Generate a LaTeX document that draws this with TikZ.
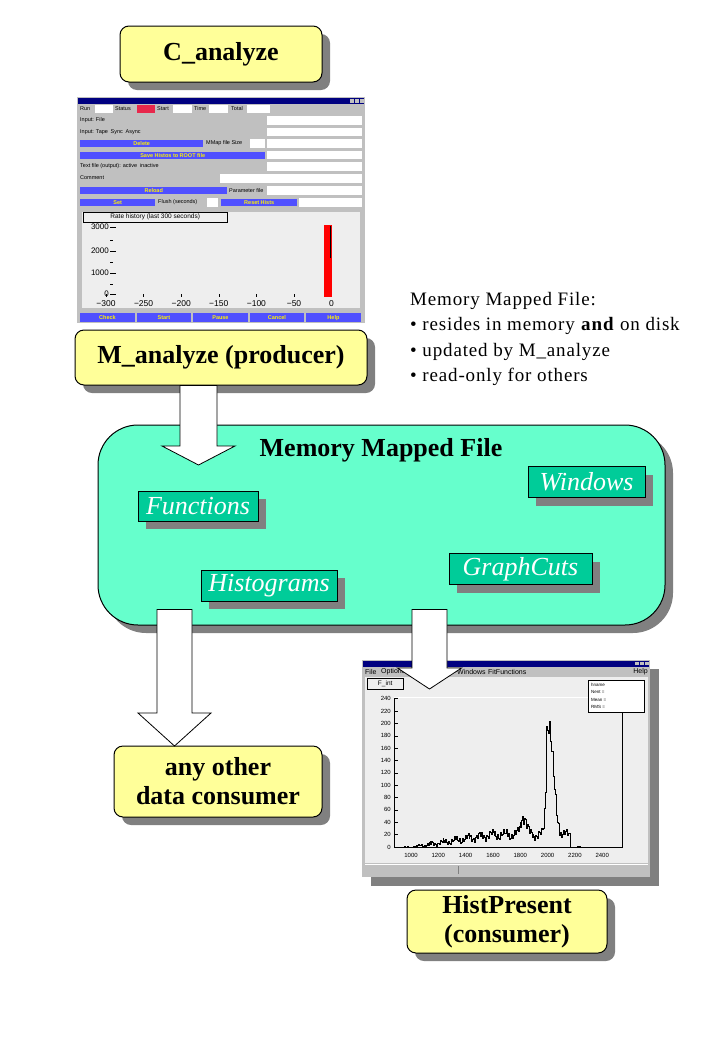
\documentclass[tikz,border=0pt]{standalone}
\usepackage{fontspec}
\setmainfont{Liberation Serif}
\newfontfamily\guifont{Liberation Sans}
\newfontfamily\notefont[LetterSpace=4.5]{Liberation Serif}
\usepackage{tikz}
\usetikzlibrary{shadows,calc}
\definecolor{progyellow}{HTML}{FFFF99}
\definecolor{mmfaqua}{HTML}{66FFCC}
\definecolor{partgreen}{HTML}{00CC99}
\definecolor{shadowgray}{HTML}{808080}
\definecolor{wingray}{HTML}{C0C0C0}
\definecolor{winnavy}{HTML}{000080}
\definecolor{winblue}{HTML}{5050FF}
\definecolor{panelgray}{HTML}{EEEEEE}
\definecolor{statred}{HTML}{E8284C}

\begin{document}
\begin{tikzpicture}[
    x=1pt, y=-1pt,
    shade8/.style={drop shadow={shadow xshift=8pt,shadow yshift=-8pt,
                   fill=shadowgray,opacity=1}},
    prog/.style={draw,line width=1pt,rounded corners=9pt,fill=progyellow,shade8,
                 align=center,inner sep=0pt,
                 font=\fontsize{26}{29}\selectfont\bfseries},
    mmbox/.style={draw,line width=1pt,rounded corners=40pt,fill=mmfaqua,shade8},
    part/.style={draw,line width=0.8pt,fill=partgreen,text=white,inner sep=0pt,
                 shade8,minimum height=31,
                 font=\fontsize{26}{26}\selectfont\itshape},
    fat/.style n args={3}{draw,line width=0.8pt,fill=white,
        to path={let \p1=(\tikztostart),\p2=(\tikztotarget) in
          (\x1-#1,\y1) -- (\x1-#1,\y2+#3) -- (\x1-#2,\y2+#3) -- (\x2,\y2)
          -- (\x1+#2,\y2+#3) -- (\x1+#1,\y2+#3) -- (\x1+#1,\y1) -- cycle}},
    gui/.style={anchor=west,inner sep=0pt,font=\guifont\fontsize{5.5}{6}\selectfont},
    btn/.style={anchor=north west,fill=winblue,text=yellow,inner sep=0pt,
                minimum height=7.5,font=\guifont\fontsize{5.5}{6}\selectfont\bfseries},
    declare function={sq(\u)=\u*\u;
      base(\t)=190*exp(-min(sq((\t-2000)/((\t<2000)*20+(\t>=2000)*48)),9))
               +32*exp(-min(sq((\t-1820)/28),9))
               +(\t>1000)*(\t<2160)*min((\t-1000)*0.035,20);
      hist(\t)=max(0,base(\t)+2.2*sqrt(base(\t))*sin(11*(\t-850))*cos(7*(\t-850)));}
  ]
  \useasboundingbox (0,0) rectangle (719,1039);

  % programs
  \node[prog,minimum width=202,minimum height=56] (canalyze) at (221,54) {C\_analyze};
  \node[prog,minimum width=292,minimum height=55] (manalyze) at (221,357.5) {M\_analyze (producer)};
  \node[prog,minimum width=208,minimum height=71] (anycons) at (218,781.5) {any other\\data consumer};
  \node[prog,minimum width=200,minimum height=63] (histpres) at (507,921.5) {HistPresent\\(consumer)};

  % M_analyze control window
  \fill[wingray] (77,97) rectangle (365,323);
  \fill[winnavy] (78,98) rectangle (364,103.5);
  \foreach \xx in {350,355,360} \fill[wingray] (\xx,98.8) rectangle +(3.8,3.8);
  \foreach \lab/\xx in {Run/80,Status/115,Start/157,Time/194,Total/231}
    \node[gui] (top\lab) at (\xx,108.5) {\lab};
  \foreach \xa/\xb in {95/113,173/192,209/228,247/270}
    \fill[white] (\xa,104.5) rectangle (\xb,112.5);
  \fill[statred] (137,104.5) rectangle (155,112.5);
  \foreach \ya in {116,127.5,139,150.5,162,186}
    \fill[white] (267,\ya) rectangle (362,\ya+8.5);
  \fill[white] (220,174) rectangle (362,182.5);
  \fill[white] (250,139) rectangle (265,147.5);
  \fill[white] (207,198) rectangle (218,206.5);
  \fill[white] (299,198) rectangle (362,206.5);
  \node[gui] (inpfile) at (80,120.5) {Input: File};
  \node[gui] (inptape) at (80,132) {Input: Tape\enspace Sync\enspace Async};
  \node[gui] (mmsize) at (206,143.5) {MMap file Size};
  \node[gui] (txtfile) at (80,166.5) {Text file (output): active\enspace inactive};
  \node[gui] (comment) at (80,178) {Comment};
  \node[gui] (parfile) at (229,190.5) {Parameter file};
  \node[gui] (flush) at (158,202.5) {Flush (seconds)};
  \node[btn,minimum width=123] (delete) at (80,139.5) {Delete};
  \node[btn,minimum width=185] (savehist) at (80,151.5) {Save Histos to ROOT file};
  \node[btn,minimum width=147] (reload) at (80,186.5) {Reload};
  \node[btn,minimum width=75] (set) at (80,198.5) {Set};
  \node[btn,minimum width=76] (reset) at (221,198.5) {Reset Hists};
  \foreach \lab [count=\i] in {Check,Start,Pause,Cancel,Help}
    \node[btn,minimum width=54.5,minimum height=9] (ctl\i) at ({80+(\i-1)*56.5},313) {\lab};
  \fill[panelgray] (82,212) rectangle (360,307.5);
  \node[draw,fill=panelgray,anchor=north west,minimum width=144,minimum height=10,
        inner sep=0pt,font=\guifont\fontsize{6.5}{7}\selectfont] (ratetab) at (83,212)
        {Rate history (last 300 seconds)};
  \foreach \v/\yy in {3000/227,2000/251,1000/273,0/294} {
    \node[gui,anchor=east,font=\guifont\fontsize{8}{8}\selectfont] (rate\v) at (109,\yy) {\v};
    \draw[line width=0.6pt] (110,\yy) -- (116,\yy);
  }
  \foreach \yy in {240,262,284} \draw[line width=0.6pt] (110,\yy) -- (113,\yy);
  \foreach \v [count=\i from 0] in {−300,−250,−200,−150,−100,−50,0} {
    \node[gui,anchor=center,font=\guifont\fontsize{8.5}{9}\selectfont] (sec\i) at ({106+37.6*\i},303.5) {\v};
    \draw[line width=0.6pt] ({106+37.6*\i},294) -- +(0,3);
  }
  \fill[red] (324,225) rectangle (332,297);
  \draw[line width=1pt] (330.5,226) -- (330.5,258);

  % note
  \node[anchor=north west,align=left,inner sep=0pt,font=\notefont\fontsize{19}{25.5}\selectfont]
    (mmfnote) at (410,292)
    {Memory Mapped File:\\• resides in memory \textbf{and} on disk\\• updated by M\_analyze\\• read-only for others};

  % memory mapped file
  \node[mmbox,minimum width=567,minimum height=200] (mmf) at (381.5,525) {};
  \node[anchor=base,inner sep=0pt,font=\fontsize{26}{26}\selectfont\bfseries] (mmftitle)
    at (381,456) {Memory Mapped File};
  \node[part,minimum width=120,minimum height=30] (functions) at (198,506) {Functions};
  \node[part,minimum width=117] (windows) at (586.5,482) {Windows};
  \node[part,minimum width=136] (histos) at (269,585.5) {Histograms};
  \node[part,minimum width=143] (cuts) at (520.5,569) {GraphCuts};

  % HistPresent window
  \fill[shadowgray] (371,669) rectangle (659,886);
  \fill[wingray] (362,660) rectangle (650,877);
  \fill[winnavy] (363,661) rectangle (649,667);
  \foreach \xx in {635,640,645} \fill[wingray] (\xx,661.5) rectangle +(3.8,3.8);
  \foreach \lab/\xx in {File/365,Options/381,Windows/457,FitFunctions/488}
    \node[gui,font=\guifont\fontsize{7}{7}\selectfont] (menu\lab) at (\xx,672) {\lab};
  \node[gui,anchor=east,font=\guifont\fontsize{7}{7}\selectfont] (menuhelp) at (648,672) {Help};
  \fill[panelgray] (365,677) rectangle (648,863);
  \node[draw,fill=panelgray,anchor=north west,minimum width=36,minimum height=11,inner sep=0pt,
        font=\guifont\fontsize{6.5}{7}\selectfont] (fint) at (367,678) {F\_int};
  \draw[line width=0.6pt] (394,697) |- (622,847) -- (622,712);
  \draw[white,line width=0.8pt] (394,697) -- (588,697);
  \node[draw,fill=white,anchor=north west,minimum width=56,minimum height=32,inner sep=0pt]
    (stats) at (588,680) {};
  \foreach \lab [count=\i] in {hname,Nent =,Mean =,RMS =}
    \node[gui,font=\guifont\fontsize{4.5}{5}\selectfont] (stat\i) at (591,{680+7.5*\i-3}) {\lab};
  \foreach \v in {0,20,...,240} {
    \node[gui,anchor=east,font=\guifont\fontsize{6}{6}\selectfont] (cnt\v) at (391,{847-0.618*\v}) {\v};
    \draw[line width=0.5pt] (394,{847-0.618*\v}) -- +(4,0);
  }
  \foreach \v in {1000,1200,...,2400}
    \node[gui,anchor=center,font=\guifont\fontsize{6}{6}\selectfont] (chan\v) at ({411+(\v-1000)*0.1366},855) {\v};
  \draw[line width=0.7pt,const plot] plot[domain=880:2300,samples=210]
    ({411+(\x-1000)*0.1366},{847-0.618*hist(\x)});
  \draw[white,line width=1pt] (365,864.5) -- (648,864.5);
  \draw[shadowgray,line width=0.8pt] (458,866) -- (458,874);

  % data flow
  \coordinate (a1tip) at (198.5,465);
  \coordinate (a2tip) at (174.5,746);
  \coordinate (a3tip) at (429.5,689);
  \draw[fat={18.5pt}{36.5pt}{19pt}] (manalyze.south -| a1tip) to (a1tip);
  \draw[fat={17.5pt}{36.5pt}{33pt}] ($(mmf.south -| a2tip)+(0,-16)$) to (a2tip);
  \draw[fat={17.5pt}{32pt}{21pt}] ($(mmf.south -| a3tip)+(0,-16)$) to (a3tip);
\end{tikzpicture}
\end{document}
